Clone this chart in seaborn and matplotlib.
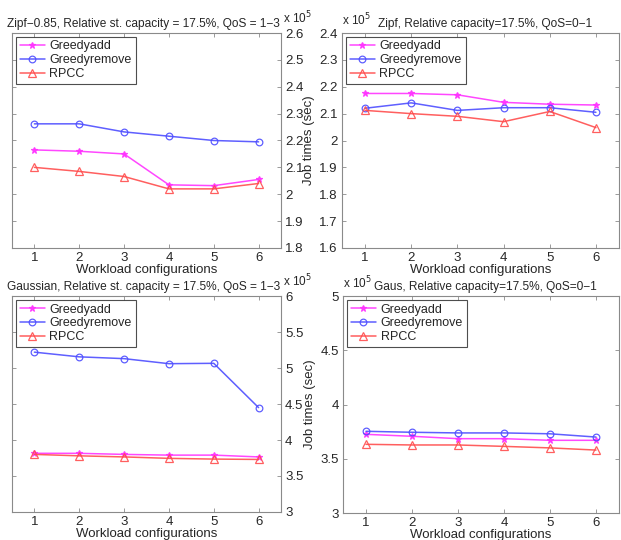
import numpy as np
import pandas as pd
import matplotlib
matplotlib.use("Agg")
import matplotlib.pyplot as plt
from matplotlib.ticker import FuncFormatter, FixedLocator
import seaborn as sns

sns.set_theme(style="white")
plt.rcParams['font.family'] = ['Liberation Sans', 'DejaVu Sans']

configs = [1, 2, 3, 4, 5, 6]
series_names = ["Greedyadd", "Greedyremove", "RPCC"]

# values in seconds
zipf13_add = [2.165e5, 2.160e5, 2.150e5, 2.035e5, 2.032e5, 2.055e5]
zipf13_rem = [2.262e5, 2.262e5, 2.232e5, 2.216e5, 2.200e5, 2.195e5]
zipf13_rpcc = [2.100e5, 2.085e5, 2.066e5, 2.020e5, 2.020e5, 2.040e5]

zipf01_add = [2.175e5, 2.175e5, 2.170e5, 2.142e5, 2.135e5, 2.132e5]
zipf01_rem = [2.120e5, 2.140e5, 2.112e5, 2.122e5, 2.122e5, 2.105e5]
zipf01_rpcc = [2.112e5, 2.100e5, 2.090e5, 2.070e5, 2.108e5, 2.048e5]

gaus13_add = [3.815e5, 3.815e5, 3.800e5, 3.790e5, 3.790e5, 3.765e5]
gaus13_rem = [5.220e5, 5.155e5, 5.130e5, 5.060e5, 5.065e5, 4.450e5]
gaus13_rpcc = [3.800e5, 3.780e5, 3.765e5, 3.745e5, 3.735e5, 3.730e5]

gaus01_add = [3.725e5, 3.707e5, 3.685e5, 3.685e5, 3.670e5, 3.670e5]
gaus01_rem = [3.753e5, 3.744e5, 3.738e5, 3.738e5, 3.730e5, 3.700e5]
gaus01_rpcc = [3.633e5, 3.627e5, 3.627e5, 3.614e5, 3.600e5, 3.580e5]

titles = [
    "Zipf\u22120.85, Relative st. capacity = 17.5%, QoS = 1\u22123",
    "Zipf, Relative capacity=17.5%, QoS=0\u22121",
    "Gaussian, Relative st. capacity = 17.5%, QoS = 1\u22123",
    "Gaus, Relative capacity=17.5%, QoS=0\u22121",
]
yticks_list = [
    [1.8, 1.9, 2.0, 2.1, 2.2, 2.3, 2.4, 2.5, 2.6],
    [1.6, 1.7, 1.8, 1.9, 2.0, 2.1, 2.2, 2.3, 2.4],
    [3, 3.5, 4, 4.5, 5, 5.5, 6],
    [3, 3.5, 4, 4.5, 5],
]
panels = [
    (zipf13_add, zipf13_rem, zipf13_rpcc),
    (zipf01_add, zipf01_rem, zipf01_rpcc),
    (gaus13_add, gaus13_rem, gaus13_rpcc),
    (gaus01_add, gaus01_rem, gaus01_rpcc),
]

colors = ["#ff33ff", "#4d4dff", "#ff4d4d"]
markers = ["*", "o", "^"]
msizes = [5, 4.8, 5.2]
mfaces = ["#ff33ff", "none", "none"]

fig = plt.figure(figsize=(6.21, 5.40), dpi=100)
W, H = 621, 540
boxes = [
    (12, 33, 281, 248),
    (342, 33, 619, 248),
    (12, 296, 281, 512),
    (343, 296, 619, 513),
]
spine_col = "#8a8a8a"
txt_col = "#262626"

for i, (box, vals, title, yt) in enumerate(zip(boxes, panels, titles, yticks_list)):
    l, t, r, b = box
    ax = fig.add_axes([l / W, 1 - b / H, (r - l) / W, (b - t) / H])
    df = pd.DataFrame({
        "config": configs * 3,
        "time": np.concatenate(vals),
        "method": np.repeat(series_names, len(configs)),
    })
    for j, name in enumerate(series_names):
        sub = df[df["method"] == name]
        sns.lineplot(data=sub, x="config", y="time", ax=ax, color=colors[j],
                     marker=markers[j], markersize=msizes[j],
                     markerfacecolor=mfaces[j], markeredgecolor=colors[j],
                     markeredgewidth=0.9, linewidth=1.1, label=name, alpha=0.9)
    ax.set_xlim(0.5, 6.5)
    ax.set_ylim(yt[0] * 1e5, yt[-1] * 1e5)
    ax.yaxis.set_major_locator(FixedLocator([v * 1e5 for v in yt]))
    ax.yaxis.set_major_formatter(FuncFormatter(lambda v, p: f"{v / 1e5:g}"))
    ax.set_xticks(configs)
    for s in ax.spines.values():
        s.set_visible(True)
        s.set_color(spine_col)
        s.set_linewidth(0.8)
    ax.tick_params(direction="in", length=3, width=0.6, color=spine_col,
                   labelsize=9.5, labelcolor=txt_col, top=True, bottom=True,
                   left=True, right=True, pad=3)
    left_panel = (i % 2 == 0)
    ax.set_xlabel("Workload configurations", fontsize=9.5, color=txt_col, labelpad=0)
    if left_panel:
        ax.tick_params(axis="y", labelleft=False, labelright=True)
        ax.set_ylabel("")
        ax.set_title(title, fontsize=8.6, color=txt_col, pad=4, x=0.49)
        ax.text(1.008, 1.03, r"x 10$^5$", transform=ax.transAxes, ha="left",
                va="bottom", fontsize=8.5, color=txt_col)
    else:
        ax.set_ylabel("Job times (sec)", fontsize=9.5, color=txt_col, labelpad=3)
        ax.set_title(title, fontsize=8.6, color=txt_col, pad=4, x=0.515)
        ax.text(0.0, 1.02, r"x 10$^5$", transform=ax.transAxes, ha="left",
                va="bottom", fontsize=8.5, color=txt_col)
    leg = ax.legend(loc="upper left", fontsize=9, frameon=True, fancybox=False,
                    borderaxespad=0.3, handlelength=2.0, labelspacing=0.15,
                    borderpad=0.3, handletextpad=0.4)
    leg.get_frame().set_edgecolor("#222222")
    leg.get_frame().set_linewidth(0.8)
    for txt in leg.get_texts():
        txt.set_color(txt_col)

fig.savefig("out.png", dpi=100, facecolor="white")
